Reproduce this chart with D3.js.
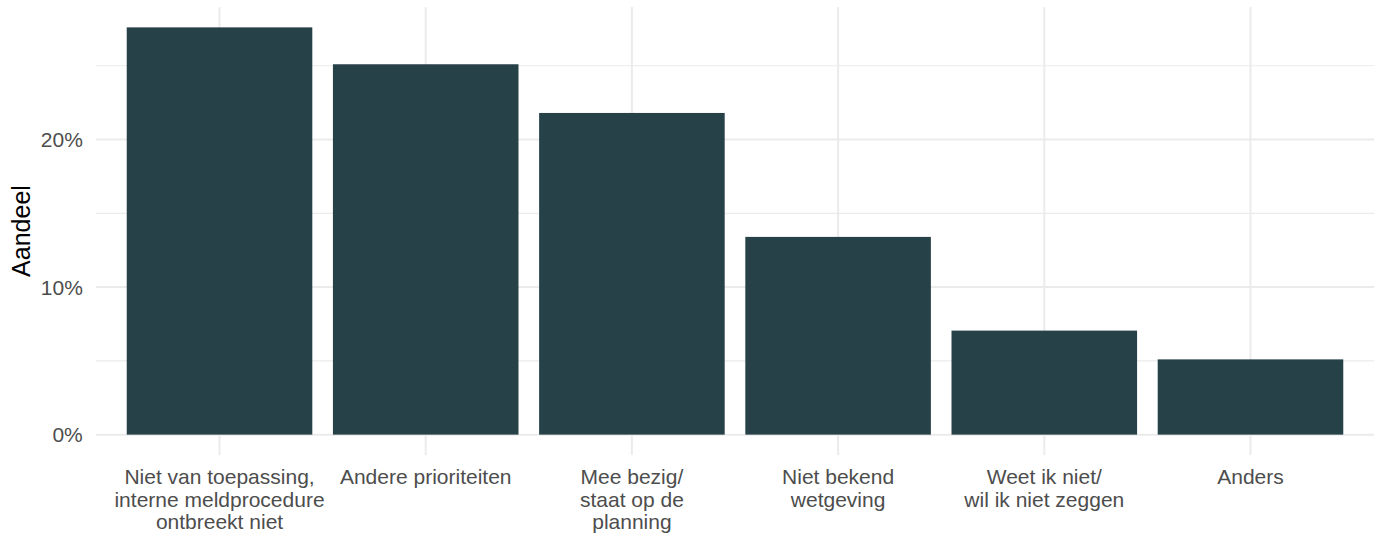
<!DOCTYPE html>
<html>
<head>
<meta charset="utf-8">
<script src="https://cdn.jsdelivr.net/npm/d3@7"></script>
<style>
  html, body { margin: 0; padding: 0; background: #ffffff; }
  svg { display: block; }
  text { font-family: "Liberation Sans", Arial, sans-serif; }
</style>
</head>
<body>
<svg id="chart" width="1386" height="537"></svg>
<script>
const categories = [
  "Niet van toepassing,\ninterne meldprocedure\nontbreekt niet",
  "Andere prioriteiten",
  "Mee bezig/\nstaat op de\nplanning",
  "Niet bekend\nwetgeving",
  "Weet ik niet/\nwil ik niet zeggen",
  "Anders"
];
const values = [0.276, 0.251, 0.218, 0.134, 0.0705, 0.051];
const yMajorTicks = [0, 0.10, 0.20];
const yMinorTicks = [0.05, 0.15, 0.25];
const yTitle = "Aandeel";

const svg = d3.select("#chart");
const W = 1386, H = 537;
const panel = { left: 95.8, right: 1374.2, top: 7, bottom: 455 };

const maxV = d3.max(values);
const x = d3.scaleBand()
  .domain(categories)
  .range([panel.left, panel.right])
  .paddingInner(0.1)
  .paddingOuter(0.15);

const y = d3.scaleLinear()
  .domain([-0.05 * maxV, maxV * 1.05])
  .range([panel.bottom, panel.top]);

const gridColor = "#ebebeb";

// minor horizontal grid
svg.append("g").selectAll("line").data(yMinorTicks).join("line")
  .attr("x1", panel.left).attr("x2", panel.right)
  .attr("y1", d => y(d)).attr("y2", d => y(d))
  .attr("stroke", gridColor).attr("stroke-width", 1.2);

// major horizontal grid
svg.append("g").selectAll("line").data(yMajorTicks).join("line")
  .attr("x1", panel.left).attr("x2", panel.right)
  .attr("y1", d => y(d)).attr("y2", d => y(d))
  .attr("stroke", gridColor).attr("stroke-width", 2);

// vertical grid
svg.append("g").selectAll("line").data(categories).join("line")
  .attr("x1", d => x(d) + x.bandwidth() / 2).attr("x2", d => x(d) + x.bandwidth() / 2)
  .attr("y1", panel.top).attr("y2", panel.bottom)
  .attr("stroke", gridColor).attr("stroke-width", 2);

// bars
svg.append("g").selectAll("rect").data(values).join("rect")
  .attr("x", (d, i) => x(categories[i]))
  .attr("width", x.bandwidth())
  .attr("y", d => y(d))
  .attr("height", d => y(0) - y(d))
  .attr("fill", "#264148");

// y axis labels
const yAxis = d3.axisLeft(y)
  .tickValues(yMajorTicks)
  .tickFormat(d3.format(".0%"))
  .tickSize(0)
  .tickPadding(0);
const gy = svg.append("g")
  .attr("transform", `translate(${panel.left - 13},0)`)
  .call(yAxis);
gy.select(".domain").remove();
gy.selectAll("text")
  .attr("fill", "#4d4d4d")
  .style("font-size", "21px")
  .attr("dy", "0.35em");

// x axis labels (multi-line)
const xAxis = d3.axisBottom(x).tickSize(0).tickFormat("");
const gx = svg.append("g")
  .attr("transform", `translate(0,${panel.bottom})`)
  .call(xAxis);
gx.select(".domain").remove();
gx.selectAll(".tick").each(function(d) {
  const lines = d.split("\n");
  const t = d3.select(this).append("text")
    .attr("text-anchor", "middle")
    .attr("fill", "#4d4d4d")
    .style("font-size", "21px");
  lines.forEach((ln, i) => {
    t.append("tspan").attr("x", 0).attr("y", 29 + i * 22.5).text(ln);
  });
});

// y title
svg.append("text")
  .attr("transform", `translate(30,${(panel.top + panel.bottom) / 2}) rotate(-90)`)
  .attr("text-anchor", "middle")
  .attr("fill", "#000000")
  .style("font-size", "25px")
  .text(yTitle);
</script>
</body>
</html>
